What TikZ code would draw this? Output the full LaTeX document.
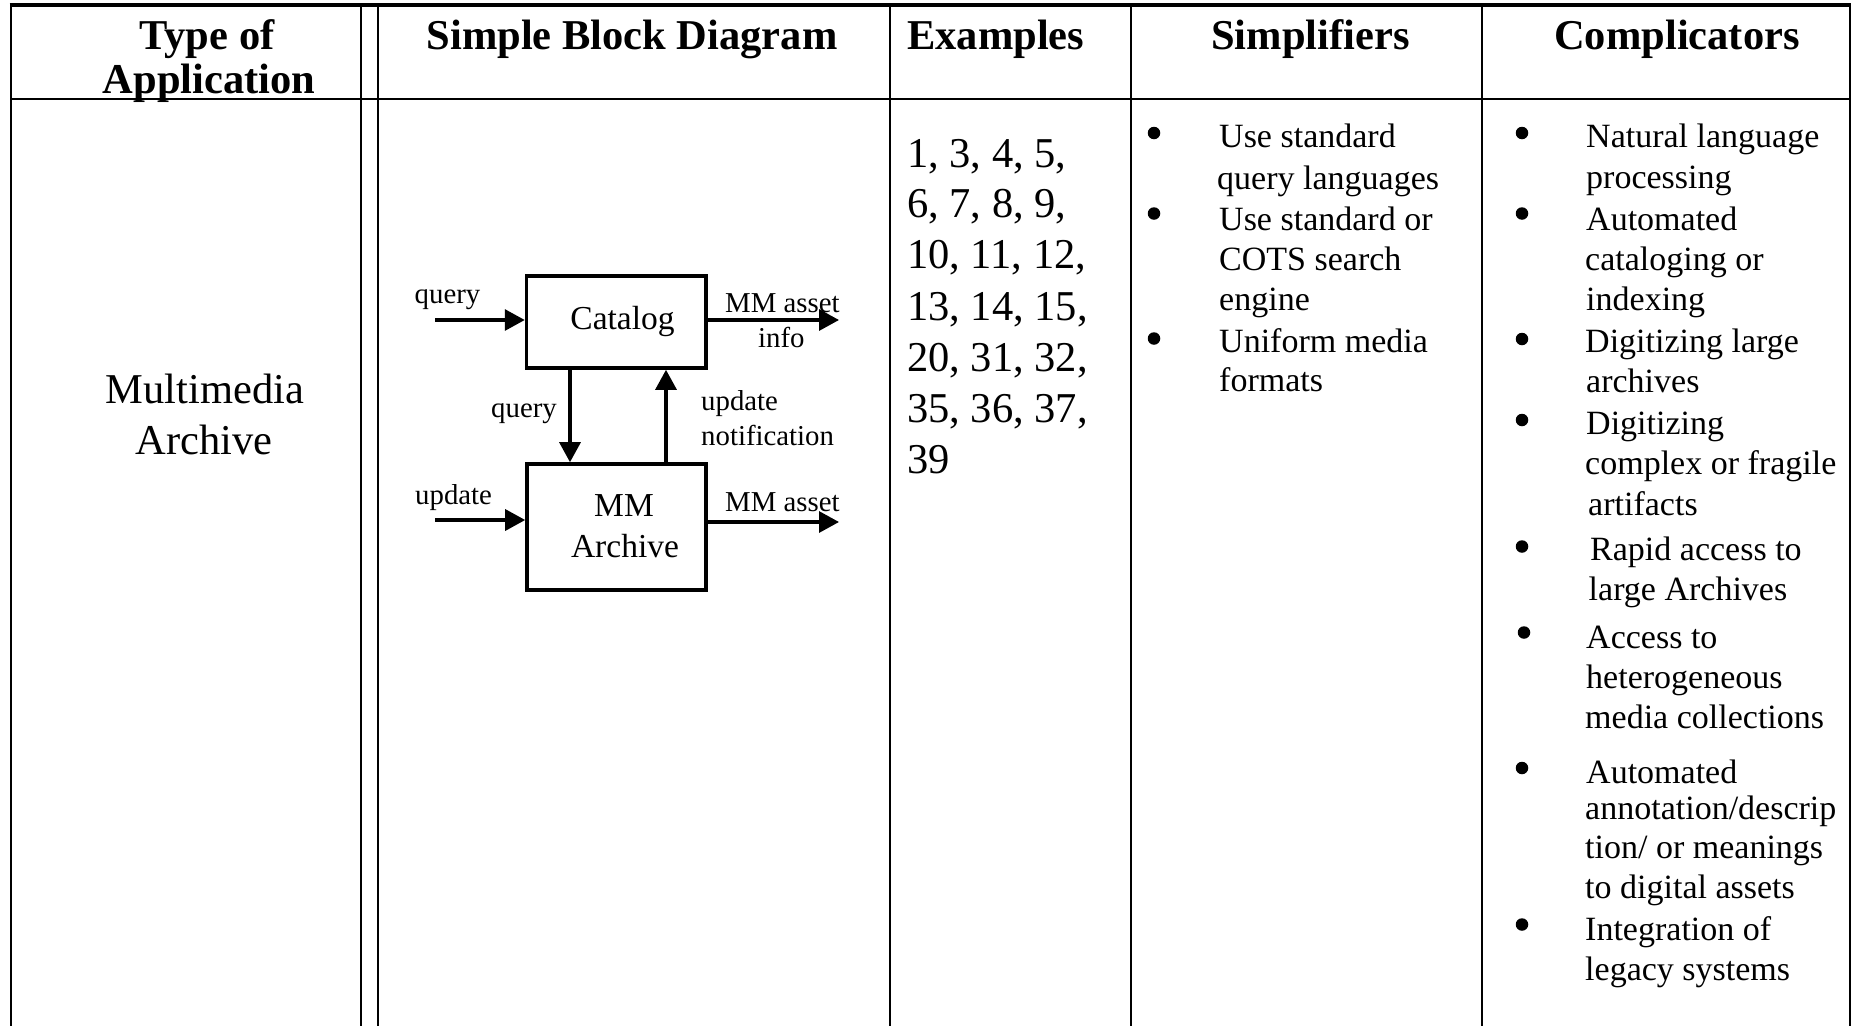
\documentclass[tikz,border=0pt]{standalone}
\usepackage{fontspec}
\setmainfont{Liberation Serif}
\usetikzlibrary{arrows.meta}
\tikzset{
  hdr/.style={font=\fontsize{42.5}{44}\selectfont\bfseries, inner sep=0pt, anchor=base},
  hdrw/.style={font=\fontsize{42.5}{44}\selectfont\bfseries, inner sep=0pt, anchor=base west},
  bigc/.style={font=\fontsize{42.5}{50}\selectfont, inner sep=0pt, anchor=base},
  bigw/.style={font=\fontsize{42.5}{50}\selectfont, inner sep=0pt, anchor=base west},
  item/.style={font=\fontsize{34}{40}\selectfont, inner sep=0pt, anchor=base west},
  bul/.style={circle, fill=black, inner sep=0pt, minimum size=12.5pt},
  lbl/.style={font=\fontsize{28.8}{34}\selectfont, inner sep=0pt, anchor=base west},
  lblc/.style={font=\fontsize{28.8}{34}\selectfont, inner sep=0pt, anchor=base},
  boxtxt/.style={font=\fontsize{33.5}{40}\selectfont, inner sep=0pt, anchor=base},
  blk/.style={draw, line width=3.6pt, inner sep=0pt},
  flow/.style={line width=3.2pt, -{Triangle[length=20pt,width=21pt]}},
  rule/.style={line width=2pt},
  toprule/.style={line width=3.5pt},
}
\begin{document}
\begin{tikzpicture}[x=1pt,y=-1pt]
\useasboundingbox[fill=white] (0,0) rectangle (1852,1026);

% table rules
\draw[toprule] (9.5,5) -- (1850.5,5);
\draw[rule] (10.5,99) -- (1849.5,99);
\foreach \xx in {11,361,378,890,1130.5,1482,1850}
  \draw[rule] (\xx,5) -- (\xx,1026);

% headers
\node[hdr] (h1a) at (207,49.5) {Type of};
\node[hdr] (h1b) at (209,93) {Application};
\node[hdr] (h2) at (632,49.5) {Simple Block Diagram};
\node[hdrw] (h3) at (907,49.5) {Examples};
\node[hdr] (h4) at (1310.5,49.5) {Simplifiers};
\node[hdr] (h5) at (1677,49.5) {Complicators};

% type of application
\node[bigc] (t1) at (205,403.5) {Multimedia};
\node[bigc] (t2) at (204,454) {Archive};

% block diagram
\node[blk, minimum width=179.5pt, minimum height=92pt] (cat) at (616.3,322) {};
\node[blk, minimum width=179pt, minimum height=126pt] (arch) at (616.5,527) {};
\node[boxtxt] (catl) at (622.5,329.5) {Catalog};
\node[boxtxt] (archa) at (624,516.5) {MM};
\node[boxtxt] (archb) at (625,557.5) {Archive};

\coordinate (qinS) at (435,320);
\coordinate (infoE) at (839,320);
\coordinate (updS) at (435,520);
\coordinate (assetE) at (839,522);
\coordinate (qdX) at (570,0);
\coordinate (unX) at (666,0);

\draw[flow] (qinS) -- (qinS -| cat.west);
\draw[flow] (infoE -| cat.east) -- (infoE);
\draw[flow] (cat.south -| qdX) -- (arch.north -| qdX);
\draw[flow] (arch.north -| unX) -- (cat.south -| unX);
\draw[flow] (updS) -- (updS -| arch.west);
\draw[flow] (assetE -| arch.east) -- (assetE);

\node[lblc] (lq1) at (447.5,303.5) {query};
\node[lbl] (lma1) at (725,312) {MM asset};
\node[lbl] (linfo) at (758,347.5) {info};
\node[lbl] (lq2) at (491,417.5) {query};
\node[lbl] (lup1) at (701,410) {update};
\node[lbl] (lnot) at (701,445) {notification};
\node[lbl] (lup2) at (415,504) {update};
\node[lbl] (lma2) at (725,511.5) {MM asset};

% examples
\node[bigw] (e1) at (907,167) {1, 3, 4, 5,};
\node[bigw] (e2) at (907,217.5) {6, 7, 8, 9,};
\node[bigw] (e3) at (907,268.5) {10, 11, 12,};
\node[bigw] (e4) at (907,320) {13, 14, 15,};
\node[bigw] (e5) at (907,371) {20, 31, 32,};
\node[bigw] (e6) at (907,422) {35, 36, 37,};
\node[bigw] (e7) at (907,473) {39};

% simplifiers
\node[bul] (sb1) at (1154,133) {};
\node[bul] (sb2) at (1154,213.5) {};
\node[bul] (sb3) at (1154,338.5) {};
\node[item] (s1) at (1219,147) {Use standard};
\node[item] (s2) at (1217,189.5) {query languages};
\node[item] (s3) at (1219,230) {Use standard or};
\node[item] (s4) at (1219,270) {COTS search};
\node[item] (s5) at (1219,310) {engine};
\node[item] (s6) at (1219,352) {Uniform media};
\node[item] (s7) at (1219,391) {formats};

% complicators
\node[bul] (cb1) at (1522,133) {};
\node[bul] (cb2) at (1522,213.5) {};
\node[bul] (cb3) at (1522,339) {};
\node[bul] (cb4) at (1522,420) {};
\node[bul] (cb5) at (1522,546.5) {};
\node[bul] (cb6) at (1524,632.5) {};
\node[bul] (cb7) at (1522,768) {};
\node[bul] (cb8) at (1522,924.5) {};
\node[item] (c1) at (1586,147) {Natural language};
\node[item] (c2) at (1586,188.5) {processing};
\node[item] (c3) at (1586,230) {Automated};
\node[item] (c4) at (1585,270) {cataloging or};
\node[item] (c5) at (1586,310) {indexing};
\node[item] (c6) at (1585,352) {Digitizing large};
\node[item] (c7) at (1586,392) {archives};
\node[item] (c8) at (1586,434) {Digitizing};
\node[item] (c9) at (1585,474.5) {complex or fragile};
\node[item] (c10) at (1588,515) {artifacts};
\node[item] (c11) at (1590,560.5) {Rapid access to};
\node[item] (c12) at (1588.5,600.5) {large Archives};
\node[item] (c13) at (1586,648.5) {Access to};
\node[item] (c14) at (1586,688) {heterogeneous};
\node[item] (c15) at (1585,728) {media collections};
\node[item] (c16) at (1586,783) {Automated};
\node[item] (c17) at (1585,819) {annotation/descrip};
\node[item] (c18) at (1585,858.5) {tion/ or meanings};
\node[item] (c19) at (1585,898) {to digital assets};
\node[item] (c20) at (1585,940) {Integration of};
\node[item] (c21) at (1585,980) {legacy systems};
\end{tikzpicture}
\end{document}
